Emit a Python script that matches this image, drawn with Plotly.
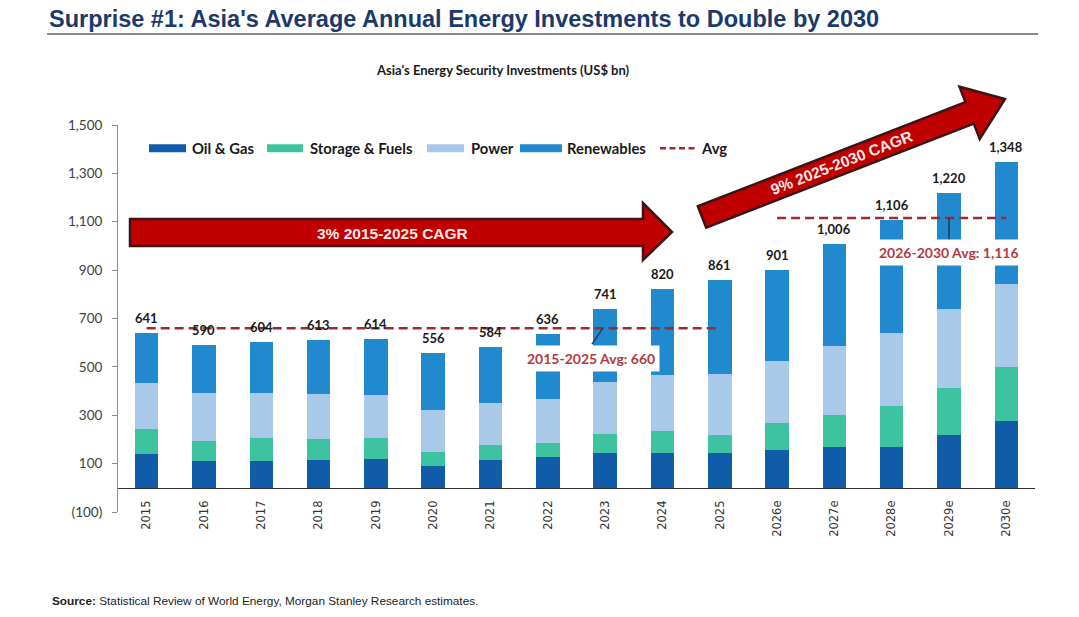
import math
import plotly.graph_objects as go

# ---------------- data ----------------
years = ["2015", "2016", "2017", "2018", "2019", "2020", "2021", "2022", "2023", "2024",
         "2025", "2026e", "2027e", "2028e", "2029e", "2030e"]
oil_gas = [141, 110, 110, 115, 121, 89, 113, 127, 142, 142, 146, 157, 168, 168, 220, 278]
storage_fuels = [101, 84, 95, 85, 85, 61, 63, 59, 79, 92, 74, 112, 135, 169, 192, 222]
power = [191, 199, 187, 186, 177, 173, 176, 183, 218, 234, 252, 256, 284, 304, 328, 344]
renewables = [208, 197, 212, 227, 231, 233, 232, 267, 302, 352, 389, 376, 419, 465, 480, 504]
totals = [641, 590, 604, 613, 614, 556, 584, 636, 741, 820, 861, 901, 1006, 1106, 1220, 1348]

avg_hist_years = years[:11]
avg_hist = 660
avg_fcst_years = years[11:]
avg_fcst = 1116

ytick_vals = [-100, 100, 300, 500, 700, 900, 1100, 1300, 1500]
ytick_text = ["(100)", "100", "300", "500", "700", "900", "1,100", "1,300", "1,500"]

series_names = ["Oil & Gas", "Storage & Fuels", "Power", "Renewables"]
series_vals = [oil_gas, storage_fuels, power, renewables]
series_colors = ["#105ca8", "#3ec3a0", "#a9c9e9", "#2189cd"]
AVG_COLOR = "#9e2a2f"

# ---------------- layout geometry (pixels) ----------------
W, H = 1079, 617
L, R, T, B = 118, 44, 125, 105
PW, PH = W - L - R, H - T - B


def P(px, py):
    return (px - L) / PW, (H - B - py) / PH


fig = go.Figure()

for name, vals, col in zip(series_names, series_vals, series_colors):
    fig.add_trace(go.Bar(x=years, y=vals, name=name, marker=dict(color=col, line=dict(width=0)),
                         showlegend=False))

fig.add_trace(go.Scatter(x=avg_hist_years, y=[avg_hist] * len(avg_hist_years), mode="lines",
                         name="Avg", line=dict(color=AVG_COLOR, width=2.5, dash="9px,5px"),
                         showlegend=False))
fig.add_trace(go.Scatter(x=avg_fcst_years, y=[avg_fcst] * len(avg_fcst_years), mode="lines",
                         name="Avg", line=dict(color=AVG_COLOR, width=2.5, dash="9px,5px"),
                         showlegend=False))

annotations = []
shapes = []

# total labels (category index as x)
for i, tot in enumerate(totals):
    annotations.append(dict(x=i, y=tot, xref="x", yref="y", text=f"<b>{tot:,}</b>",
                            showarrow=False, xanchor="center", yanchor="bottom", yshift=5,
                            font=dict(family="Lato", size=13, color="#1a1a1a")))

# avg labels
annotations.append(dict(x=7.75, y=536, xref="x", yref="y", text="<b>2015-2025 Avg: 660</b>",
                        showarrow=False, bgcolor="white", borderpad=4,
                        xanchor="center", yanchor="middle",
                        font=dict(family="Lato", size=14, color="#b23a3f")))
annotations.append(dict(x=14.0, y=973, xref="x", yref="y", text="<b>2026-2030 Avg: 1,116</b>",
                        showarrow=False, bgcolor="white", borderpad=4,
                        xanchor="center", yanchor="middle",
                        font=dict(family="Lato", size=14, color="#b23a3f")))

# custom legend (wide flat swatches)
leg_y = 148.3
leg_items = [(149, 186, 190), (267, 303, 308), (427, 464, 469), (520, 562, 565)]
for (x0, x1, xt), name, col in zip(leg_items, series_names, series_colors):
    a = P(x0, leg_y - 4)
    b = P(x1, leg_y + 4)
    shapes.append(dict(type="rect", xref="paper", yref="paper", x0=a[0], y0=a[1], x1=b[0], y1=b[1],
                       fillcolor=col, line=dict(width=0)))
    tx, ty = P(xt, leg_y)
    annotations.append(dict(x=tx, y=ty, xref="paper", yref="paper", xanchor="left", yanchor="middle",
                            text=f"<b>{name}</b>", showarrow=False,
                            font=dict(family="Lato", size=14.8, color="#1a1a1a")))
a = P(660, leg_y)
b = P(697, leg_y)
shapes.append(dict(type="line", xref="paper", yref="paper", x0=a[0], y0=a[1], x1=b[0], y1=b[1],
                   line=dict(color=AVG_COLOR, width=2.5, dash="6px,3.5px")))
tx, ty = P(699, leg_y)
annotations.append(dict(x=tx, y=ty, xref="paper", yref="paper", xanchor="left", yanchor="middle",
                        text="<b>Avg</b>", showarrow=False,
                        font=dict(family="Lato", size=14.8, color="#1a1a1a")))

# title, subtitle, source
tx, ty = P(47, 19)
annotations.append(dict(x=tx, y=ty, xref="paper", yref="paper", xanchor="left", yanchor="middle",
                        text="<b>Surprise #1: Asia's Average Annual Energy Investments to Double by 2030</b>",
                        showarrow=False,
                        font=dict(family="Liberation Sans, Arial, sans-serif", size=23.5, color="#1b3a6b")))
sx, sy = P(503, 70)
annotations.append(dict(x=sx, y=sy, xref="paper", yref="paper", xanchor="center", yanchor="middle",
                        text="<b>Asia's Energy Security Investments (US$ bn)</b>", showarrow=False,
                        font=dict(family="Lato", size=13, color="#1a1a1a")))
ox, oy = P(50, 601)
annotations.append(dict(x=ox, y=oy, xref="paper", yref="paper", xanchor="left", yanchor="middle",
                        text="<b>Source:</b> Statistical Review of World Energy, Morgan Stanley Research estimates.",
                        showarrow=False,
                        font=dict(family="Liberation Sans, Arial, sans-serif", size=11.8, color="#222222")))

# horizontal arrow
pts1 = [(130, 219), (643, 219), (643, 203), (672, 232), (643, 260), (643, 246), (130, 246)]
a1x, a1y = P(392, 233)
annotations.append(dict(x=a1x, y=a1y, xref="paper", yref="paper", text="<b>3% 2015-2025 CAGR</b>",
                        showarrow=False, xanchor="center", yanchor="middle",
                        font=dict(family="Liberation Sans, Arial, sans-serif", size=15.5, color="#fbe6e6")))

# diagonal arrow geometry
Sx, Sy = 702.0, 217.0
Tx, Ty = 1005.0, 99.0
dx, dy = Tx - Sx, Ty - Sy
ln = (dx ** 2 + dy ** 2) ** 0.5
ux, uy = dx / ln, dy / ln
nx, ny = -uy, ux
bw, hw, hl = 11.5, 28.0, 38.0
Bx, By = Tx - hl * ux, Ty - hl * uy
pts2 = [(Sx - bw * nx, Sy - bw * ny), (Bx - bw * nx, By - bw * ny), (Bx - hw * nx, By - hw * ny),
        (Tx, Ty), (Bx + hw * nx, By + hw * ny), (Bx + bw * nx, By + bw * ny),
        (Sx + bw * nx, Sy + bw * ny)]
ang = math.degrees(math.atan2(dy, dx))
tcx, tcy = Sx + 150 * ux, Sy + 150 * uy
a2x, a2y = P(tcx, tcy)
annotations.append(dict(x=a2x, y=a2y, xref="paper", yref="paper", text="<b>9% 2025-2030 CAGR</b>",
                        showarrow=False, textangle=ang, xanchor="center", yanchor="middle",
                        font=dict(family="Liberation Sans, Arial, sans-serif", size=15.5, color="#fbe6e6")))


def path(pts):
    s = []
    for i, (x, y) in enumerate(pts):
        X, Y = P(x, y)
        s.append(("M" if i == 0 else "L") + f"{X:.5f},{Y:.5f}")
    return " ".join(s) + " Z"


shapes += [
    dict(type="path", path=path(pts1), xref="paper", yref="paper", fillcolor="#c00000",
         line=dict(color="#3a1416", width=2.5), layer="above"),
    dict(type="path", path=path(pts2), xref="paper", yref="paper", fillcolor="#c00000",
         line=dict(color="#3a1416", width=2.5), layer="above"),
]
# title underline
u0 = P(47, 34)
u1 = P(1038, 34)
shapes.append(dict(type="line", xref="paper", yref="paper", x0=u0[0], y0=u0[1], x1=u1[0], y1=u1[1],
                   line=dict(color="#8a8a8a", width=2)))
# leader lines
shapes.append(dict(type="line", xref="x", yref="y", x0=7.77, y0=594, x1=7.96, y1=avg_hist,
                   line=dict(color="#243a5a", width=1.5), layer="above"))
shapes.append(dict(type="line", xref="x", yref="y", x0=14.0, y0=1023, x1=14.0, y1=avg_fcst,
                   line=dict(color="#1d3557", width=1.5), layer="above"))

fig.update_layout(
    width=W, height=H, autosize=False,
    margin=dict(l=L, r=R, t=T, b=B, autoexpand=False),
    paper_bgcolor="white", plot_bgcolor="white",
    barmode="stack", bargap=0.59,
    showlegend=False,
    annotations=annotations,
    shapes=shapes,
    xaxis=dict(type="category", categoryorder="array", categoryarray=years,
               range=[-0.5, len(years) - 0.5],
               anchor="free", position=(0 - (-100)) / 1600,
               showline=True, linecolor="#333333", linewidth=1.2, ticks="", tickangle=-90,
               ticklabelstandoff=7, showgrid=False, zeroline=False,
               tickfont=dict(family="DejaVu Sans", size=11.5, color="#333333")),
    yaxis=dict(range=[-100, 1500], domain=[0, 1], tickvals=ytick_vals, ticktext=ytick_text,
               showline=True, linecolor="#8c8c8c", linewidth=1, ticks="outside", ticklen=5,
               tickcolor="#8c8c8c", showgrid=False, zeroline=False, ticklabelstandoff=7,
               tickfont=dict(family="Lato", size=13.5, color="#404040")),
)

fig.write_html("out.html")
